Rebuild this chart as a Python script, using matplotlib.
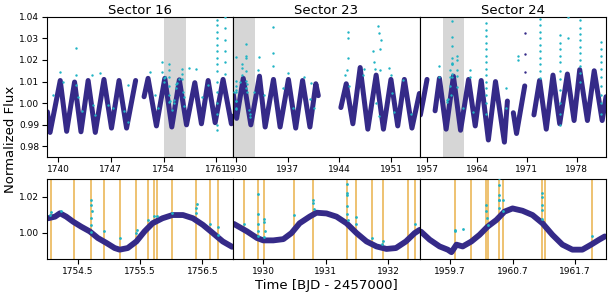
import numpy as np
import matplotlib
matplotlib.use("Agg")
import matplotlib.pyplot as plt

nan = np.nan

# sector light curves (coarse), NaN marks data gaps
s16_t = [1738.6, 1738.95, 1740.3, 1741.15, 1742.2, 1743.05, 1744.0, 1744.95, 1746.1, 1747.1,
         1748.1, 1749.1, 1750.3, 1750.8, 1751.42, 1751.95, 1753.06, 1754.17, 1755.1, 1756.1,
         1757.05, 1758.15, 1759.03, 1759.92, 1760.85, 1761.9, 1763.0, 1763.2]
s16_f = [0.996, 0.9865, 1.0105, 0.987, 1.0098, 0.9868, 1.0105, 0.9865, 1.0110, 0.9885,
         1.0105, 0.9885, 1.0105, nan, 1.003, 1.0115, 0.9895, 1.0115, 0.989, 1.0108,
         0.990, 1.0095, 0.9905, 1.0105, 0.991, 1.0110, 0.9905, 0.994]

s23_t = [1929.6, 1930.05, 1930.95, 1931.98, 1933.15, 1933.92, 1935.05, 1935.95, 1937.08, 1938.07,
         1939.0, 1940.0, 1940.8, 1941.14, 1942.5, 1944.2, 1944.93, 1945.83, 1946.82, 1947.86,
         1948.99, 1949.98, 1951.0, 1951.92, 1952.82, 1953.85, 1954.86]
s23_f = [1.004, 0.993, 1.0115, 0.990, 1.0125, 0.989, 1.011, 0.989, 1.011, 0.9885,
         1.0105, 0.989, 1.009, 1.0035, nan, 0.998, 1.009, 0.9905, 1.0165, 0.988,
         1.013, 0.988, 1.011, 0.9895, 1.011, 0.9885, 1.0045]

s24_t = [1956.07, 1956.5, 1957.0, 1957.5, 1958.13, 1958.74, 1959.68, 1960.7, 1961.7, 1962.83,
         1963.76, 1964.6, 1965.6, 1966.6, 1967.85, 1968.27, 1968.7, 1969.1, 1969.55, 1970.7,
         1971.3, 1971.99, 1972.78, 1973.72, 1974.66, 1975.6, 1976.68, 1977.62, 1978.41, 1979.49,
         1980.44, 1981.56, 1982.1]
s24_f = [0.9946, 1.002, 1.0110, nan, 0.9965, 1.0115, 0.9880, 1.0125, 0.9875, 1.0110,
         0.9895, 1.0105, 0.9830, 1.0100, 0.9820, 1.0010, nan, 0.9956, 0.9860, 1.0080,
         nan, 0.9946, 1.0105, 0.9880, 1.0130, 0.9905, 1.0135, 0.9920, 1.0155, 0.9920,
         1.0150, 0.9920, 1.0030]

# zoomed windows (bottom row)
z16_t = [1754.02, 1754.13, 1754.21, 1754.31, 1754.42, 1754.55, 1754.69, 1754.82, 1754.96, 1755.09,
         1755.17, 1755.30, 1755.44, 1755.57, 1755.70, 1755.86, 1756.02, 1756.19, 1756.35, 1756.51,
         1756.67, 1756.83, 1756.98]
z16_f = [1.0080, 1.0089, 1.0108, 1.0089, 1.0061, 1.0033, 1.0006, 0.9969, 0.9941, 0.9913,
         0.9904, 0.9913, 0.9950, 1.0006, 1.0052, 1.0080, 1.0098, 1.0098, 1.0080, 1.0043,
         0.9997, 0.9950, 0.9920]

z23_t = [1929.53, 1929.74, 1929.90, 1930.00, 1930.16, 1930.32, 1930.45, 1930.58, 1930.74, 1930.85,
         1931.01, 1931.17, 1931.33, 1931.49, 1931.65, 1931.81, 1931.97, 1932.12, 1932.28, 1932.42,
         1932.50]
z23_f = [1.0048, 1.0006, 0.9969, 0.9956, 0.9956, 0.9963, 0.9997, 1.0052, 1.0089, 1.0111,
         1.0107, 1.0089, 1.0052, 0.9997, 0.9950, 0.9922, 0.9908, 0.9913, 0.9950, 0.9997,
         1.0015]

z24_t = [1959.23, 1959.37, 1959.53, 1959.66, 1959.72, 1959.80, 1959.90, 1960.04, 1960.17, 1960.30,
         1960.44, 1960.57, 1960.70, 1960.86, 1961.02, 1961.18, 1961.34, 1961.50, 1961.66, 1961.82,
         1961.96, 1962.09, 1962.18]
z24_f = [1.0005, 0.9960, 0.9922, 0.9904, 0.9890, 0.9932, 0.9922, 0.9950, 0.9987, 1.0033,
         1.0070, 1.0117, 1.0135, 1.0122, 1.0098, 1.0052, 0.9987, 0.9932, 0.9904, 0.9904,
         0.9932, 0.9960, 0.9978]

# flagged (flare) points
c16_t = [1739.38, 1740.27, 1740.7, 1742.39, 1742.39, 1742.45, 1742.7, 1743.14, 1744.47, 1744.6,
         1744.9, 1745.58, 1746.68, 1747.34, 1748.8, 1749.34, 1749.34, 1752.17, 1752.84, 1753.28,
         1753.81, 1753.81, 1757.4, 1758.37, 1759.04, 1759.92,
         1761.12, 1761.12, 1761.12, 1761.12, 1761.12, 1761.13, 1761.13, 1761.13, 1761.13, 1761.14,
         1761.14, 1761.14, 1761.15, 1761.15, 1761.15,
         1762.1, 1762.1, 1762.1, 1762.1, 1762.1, 1762.1,
         1754.05, 1754.06, 1754.22, 1754.71, 1754.71, 1754.71, 1754.72, 1754.71, 1754.71, 1754.92,
         1755.18, 1755.44, 1755.45, 1755.63, 1755.72, 1755.77, 1756.02, 1756.40, 1756.40, 1756.41,
         1756.63, 1756.75, 1756.75]
c16_f = [1.0039, 1.0143, 1.0100, 1.0254, 1.0131, 1.0085, 1.0031, 0.9962, 1.0131, 0.9990,
         0.9946, 1.0139, 0.9992, 0.9977, 0.9962, 0.9915, 1.0085, 1.0143, 1.0040, 0.9980,
         1.0192, 1.0146, 1.0162, 1.0160, 1.0030, 1.0085,
         1.0385, 1.0360, 1.0330, 1.0300, 1.0270, 1.0240, 1.0210, 1.0180, 1.0150, 1.0100,
         1.0050, 1.0000, 0.9950, 0.9900, 0.9877,
         1.0400, 1.0350, 1.0290, 1.0240, 1.0190, 1.0135,
         1.0100, 1.0115, 1.0120, 1.0005, 1.0040, 1.0080, 1.0120, 1.0155, 1.0180, 1.0010,
         0.9970, 1.0000, 1.0015, 1.0070, 1.0090, 1.0095, 1.0110, 1.0110, 1.0135, 1.0160,
         1.0050, 1.0030, 0.9985]

c23_t = [1933.02, 1932.9, 1935.05, 1935.05, 1935.05, 1931.9, 1933.7, 1936.4, 1937.08, 1937.75,
         1939.2, 1940.2, 1940.0, 1940.5, 1945.14, 1945.14, 1945.14, 1945.0, 1944.8, 1945.3,
         1949.2, 1949.4, 1949.6, 1949.5, 1948.5, 1948.7, 1948.8, 1949.5, 1950.75, 1951.0,
         1952.6, 1951.2, 1951.4, 1953.7, 1947.2, 1947.4, 1949.0, 1949.4,
         1929.69, 1929.91, 1929.91, 1929.91, 1929.92, 1929.91, 1930.01, 1930.01, 1930.02, 1930.01,
         1930.49, 1930.80, 1930.80, 1930.81, 1931.33, 1931.33, 1931.33, 1931.34, 1931.34, 1931.35,
         1931.48, 1931.48, 1931.73, 1931.92, 1932.42]
c23_f = [1.0215, 1.0154, 1.0351, 1.0230, 1.0170, 0.9938, 1.0040, 1.0070, 1.0139, 0.9980,
         1.0123, 1.0092, 1.0020, 0.9980, 1.0331, 1.0300, 1.0210, 1.0154, 1.0130, 1.0080,
         1.0357, 1.0323, 1.0290, 1.0250, 1.0240, 1.0192, 1.0160, 1.0154, 1.0162, 1.0130,
         1.0108, 1.0046, 0.9960, 0.9950, 1.0130, 1.0160, 1.0000, 0.9940,
         1.0050, 1.0215, 1.0104, 1.0050, 1.0010, 0.9980, 1.0078, 1.0060, 1.0010, 0.9975,
         1.0098, 1.0180, 1.0165, 1.0130, 1.0274, 1.0220, 1.0210, 1.0150, 1.0104, 1.0070,
         1.0089, 1.0050, 0.9969, 0.9950, 1.0050]

c24_t = [1958.74, 1958.74, 1959.9, 1960.48, 1960.48, 1960.48, 1962.97, 1962.97, 1963.5,
         1965.3, 1965.3, 1965.3, 1965.3, 1965.3, 1965.3, 1965.31, 1965.31, 1965.31, 1965.31,
         1965.31, 1965.32, 1965.32, 1965.32,
         1968.13, 1968.13, 1969.82, 1969.82,
         1972.78, 1972.78, 1972.78, 1972.78, 1972.78, 1972.79, 1972.79, 1972.79, 1972.79, 1972.79,
         1975.6, 1975.6, 1975.6, 1975.6, 1975.6, 1975.61, 1975.61, 1975.61, 1975.61, 1975.61, 1975.62,
         1976.7, 1976.7,
         1978.41, 1978.41, 1978.41, 1978.41, 1978.41, 1978.42, 1978.42, 1978.42, 1978.42, 1978.42,
         1981.37, 1981.37, 1981.37, 1981.37, 1981.37, 1981.38, 1981.38, 1981.38, 1981.38, 1981.38,
         1959.77, 1959.77, 1960.28, 1960.28, 1960.29, 1960.30, 1960.48, 1960.48, 1960.49, 1960.48,
         1960.55, 1960.55, 1961.17, 1961.17, 1961.18, 1961.17, 1961.18, 1961.98]
c24_f = [1.0170, 1.0123, 1.0020, 1.0380, 1.0308, 1.0185, 1.0154, 1.0123, 0.9960,
         1.0370, 1.0340, 1.0310, 1.0280, 1.0250, 1.0220, 1.0190, 1.0160, 1.0130, 1.0100,
         1.0070, 1.0040, 1.0000, 0.9950,
         1.0070, 0.9980, 1.0220, 1.0200,
         1.0390, 1.0360, 1.0330, 1.0300, 1.0270, 1.0240, 1.0210, 1.0180, 1.0150, 1.0115,
         1.0316, 1.0280, 1.0250, 1.0220, 1.0190, 1.0150, 1.0110, 1.0060, 1.0000, 0.9950, 0.9900,
         1.0400, 1.0300,
         1.0385, 1.0350, 1.0320, 1.0290, 1.0260, 1.0230, 1.0200, 1.0170, 1.0140, 1.0100,
         1.0285, 1.0250, 1.0220, 1.0190, 1.0160, 1.0120, 1.0080, 1.0040, 1.0000, 0.9950,
         1.0015, 1.0006, 1.0154, 1.0120, 1.0080, 1.0040, 1.0265, 1.0210, 1.0180, 1.0135,
         1.0180, 1.0120, 1.0220, 1.0200, 1.0155, 1.0125, 1.0075, 0.9980]

# unflagged outliers in sector 24
o24_t = [1970.7, 1970.7, 1970.72]
o24_f = [1.0326, 1.0226, 1.0146]

# flare times marked in the zoom windows
fl16 = [1754.06, 1754.43, 1754.71, 1754.92, 1755.18, 1755.44, 1755.63, 1755.72, 1755.77,
        1756.02, 1756.40, 1756.63, 1756.75]
fl23 = [1929.69, 1929.91, 1930.01, 1930.49, 1930.80, 1931.33, 1931.48, 1931.73, 1931.92,
        1932.32, 1932.42]
fl24 = [1959.77, 1960.04, 1960.28, 1960.30, 1960.48, 1960.55, 1961.17, 1961.22, 1961.98]

sectors = ["Sector 16", "Sector 23", "Sector 24"]
full_lim = [(1738.54, 1763.26), (1929.6, 1954.9), (1955.97, 1982.1)]
zoom_lim = [(1754.0, 1757.0), (1929.52, 1932.5), (1959.21, 1962.2)]
full_ticks = [[1740, 1747, 1754, 1761], [1930, 1937, 1944, 1951], [1957, 1964, 1971, 1978]]
zoom_ticks = [[1754.5, 1755.5, 1756.5], [1930, 1931, 1932], [1959.7, 1960.7, 1961.7]]

lc = [(s16_t, s16_f), (s23_t, s23_f), (s24_t, s24_f)]
zc = [(z16_t, z16_f), (z23_t, z23_f), (z24_t, z24_f)]
cf = [(c16_t, c16_f), (c23_t, c23_f), (c24_t, c24_f)]
flares = [fl16, fl23, fl24]

purple = "#352a88"
cyan = "#20b4c4"
orange = "#e8ab3c"

fig = plt.figure(figsize=(6.1, 2.96), dpi=100)
left, width = 0.077, 0.3055

for i in range(3):
    ax = fig.add_axes([left + i * width, 0.4686, width, 0.475])
    ax.axvspan(*zoom_lim[i], color="#d6d6d6", lw=0, zorder=0)
    ax.plot(*lc[i], color=purple, lw=3.6, solid_joinstyle="round", solid_capstyle="round", zorder=2)
    ax.scatter(*cf[i], s=3, color=cyan, lw=0, zorder=3)
    if i == 2:
        ax.scatter(o24_t, o24_f, s=3, color=purple, lw=0, zorder=3)
    ax.set_xlim(full_lim[i])
    ax.set_ylim(0.975, 1.04)
    ax.set_xticks(full_ticks[i])
    ax.set_yticks([0.98, 0.99, 1.00, 1.01, 1.02, 1.03, 1.04])
    ax.yaxis.set_major_formatter(matplotlib.ticker.FormatStrFormatter("%.2f"))
    ax.set_title(sectors[i], fontsize=9.5, pad=2)
    ax.tick_params(labelsize=6.5, length=3.5, pad=2)
    if i > 0:
        ax.tick_params(axis="y", left=False, labelleft=False)

    bx = fig.add_axes([left + i * width, 0.124, width, 0.2713])
    for t in flares[i]:
        bx.axvline(t, color=orange, lw=1.2, alpha=0.85, zorder=1)
    bx.plot(*zc[i], color=purple, lw=4.2, solid_joinstyle="round", solid_capstyle="round", zorder=2)
    bx.scatter(*cf[i], s=4, color=cyan, lw=0, zorder=3)
    bx.set_xlim(zoom_lim[i])
    bx.set_ylim(0.985, 1.03)
    bx.set_xticks(zoom_ticks[i])
    bx.set_yticks([1.00, 1.02])
    bx.yaxis.set_major_formatter(matplotlib.ticker.FormatStrFormatter("%.2f"))
    bx.tick_params(labelsize=6.5, length=3.5, pad=2)
    if i > 0:
        bx.tick_params(axis="y", left=False, labelleft=False)

fig.text(0.018, 0.53, "Normalized Flux", rotation=90, ha="center", va="center", fontsize=9.5)
fig.text(0.535, 0.037, "Time [BJD - 2457000]", ha="center", va="center", fontsize=9.5)

fig.savefig("out.png", dpi=100)
